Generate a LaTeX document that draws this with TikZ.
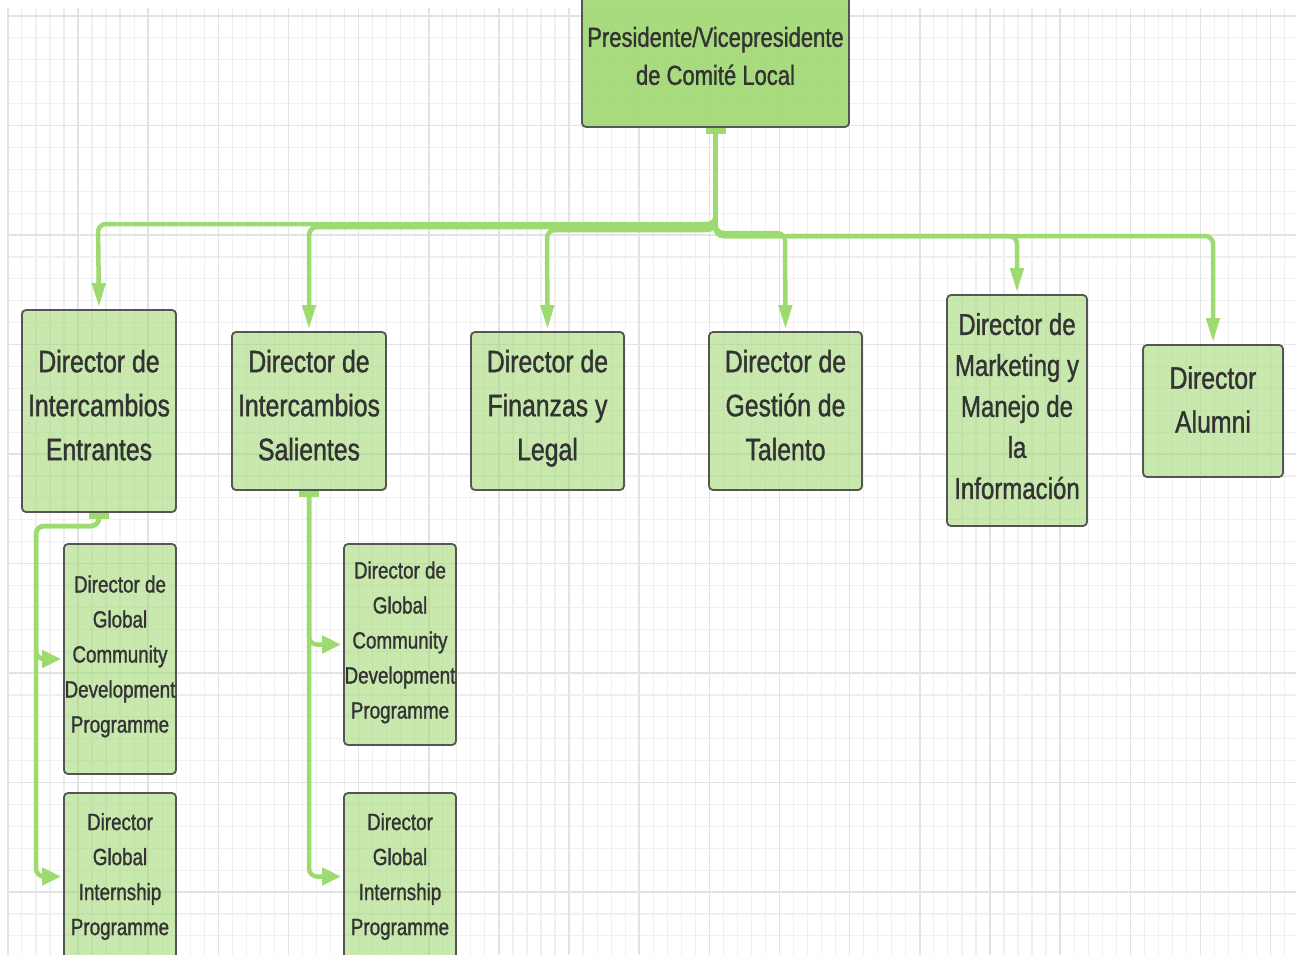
\documentclass[tikz,border=0pt]{standalone}
\usepackage{fontspec}
\newfontfamily\chartfont[FakeStretch=0.8,FakeBold=1.2]{Liberation Sans}
\usetikzlibrary{arrows.meta,positioning}
\definecolor{linkgreen}{RGB}{157,218,112}
\definecolor{boxgreen}{RGB}{163,217,119}
\definecolor{boxborder}{RGB}{85,85,85}
\definecolor{inkgray}{RGB}{51,51,51}
\newcommand{\lvltop}{\chartfont\fontsize{27.5}{38}\selectfont}
\newcommand{\lvltwo}{\chartfont\fontsize{31}{44}\selectfont}
\newcommand{\lvlmkt}{\chartfont\fontsize{30}{41}\selectfont}
\newcommand{\lvlthree}{\chartfont\fontsize{23.5}{35}\selectfont}
\tikzset{
  gridminor/.style={draw=black!6, line width=1.2pt},
  gridmajor/.style={draw=black!11, line width=1.5pt},
  orgbox/.style={draw=boxborder, line width=1.8pt, rounded corners=4pt,
    fill=boxgreen, fill opacity=0.6, text opacity=1, text=inkgray,
    align=center, inner sep=0pt},
  topbox/.style={orgbox, fill opacity=0.95, font=\lvltop},
  midbox/.style={orgbox, font=\lvltwo, text depth=12pt},
  subbox/.style={orgbox, font=\lvlthree, minimum width=112pt},
  conn/.style={draw=linkgreen, line width=4.5pt, rounded corners=8pt},
  tipdown/.style={{Rectangle[length=6pt,width=20pt]}-{Triangle[length=24pt,width=13pt]}, shorten >=2pt},
  tipright/.style={{Rectangle[length=6pt,width=20pt]}-{Triangle[length=19pt,width=17pt]}, shorten >=2pt}
}
\begin{document}
\begin{tikzpicture}[x=1pt,y=-1pt]
\useasboundingbox (0,0) rectangle (1296,955);
\clip (0,0) rectangle (1296,955);
% grid
\foreach \k in {0,...,92}
  \draw[gridminor] ({7.85+14.03*\k},8) -- ({7.85+14.03*\k},955);
\foreach \j in {0,...,43}
  \draw[gridminor] (8,{16+21.9*\j}) -- (1296,{16+21.9*\j});
\foreach \k in {0,5,...,90}
  \draw[gridmajor] ({7.85+14.03*\k},8) -- ({7.85+14.03*\k},955);
\foreach \j in {0,5,...,40}
  \draw[gridmajor] (8,{16+21.9*\j}) -- (1296,{16+21.9*\j});

% boxes
\node[topbox, minimum width=267pt, minimum height=142pt] (pres) at (715.5,56)
  {Presidente/Vicepresidente\\de Comité Local};
\node[midbox, minimum width=154pt, minimum height=202pt] (dinc) at (99,411)
  {Director de\\Intercambios\\Entrantes};
\node[midbox, minimum width=154pt, minimum height=158pt] (dout) at (309,411)
  {Director de\\Intercambios\\Salientes};
\node[midbox, minimum width=153pt, minimum height=158pt] (dfin) at (547.5,411)
  {Director de\\Finanzas y\\Legal};
\node[midbox, minimum width=153pt, minimum height=158pt] (dtal) at (785.5,411)
  {Director de\\Gestión de\\Talento};
\node[midbox, font=\lvlmkt, text depth=9pt, minimum width=140pt, minimum height=231pt] (dmkt) at (1017,410.5)
  {Director de\\Marketing y\\Manejo de\\la\\Información};
\node[midbox, minimum width=140pt, minimum height=132pt, text depth=23pt] (dalu) at (1213,411)
  {Director\\Alumni};

\node[subbox, text depth=10pt, minimum height=230pt] (gcdpin) at (120,659)
  {Director de\\Global\\Community\\Development\\Programme};
\node[subbox, minimum height=167pt] (gipin) at (120,876.5)
  {Director\\Global\\Internship\\Programme};
\node[subbox, text depth=9pt, minimum height=201pt] (gcdpout) at (400,644.5)
  {Director de\\Global\\Community\\Development\\Programme};
\node[subbox, minimum height=167pt] (gipout) at (400,876.5)
  {Director\\Global\\Internship\\Programme};

% connectors
\draw[conn, tipdown] (pres.south) |- (98,224) -- (dinc.north);
\draw[conn, tipdown] (pres.south) |- (309,227) -- (dout.north);
\draw[conn, tipdown] (pres.south) |- (547,230) -- (dfin.north);
\draw[conn, tipdown] (pres.south) |- (785,233) -- (dtal.north);
\draw[conn, tipdown] (pres.south) |- (1017,236) -- (dmkt.north);
\draw[conn, tipdown] (pres.south) |- (1213,236) -- (dalu.north);

\coordinate (bendin) at (36,526);
\draw[conn, tipright] (dinc.south) |- (bendin) |- (gcdpin.west);
\draw[conn, tipright] (dinc.south) |- (bendin) |- (gipin.west);
\draw[conn, tipright] (dout.south) |- (gcdpout.west);
\draw[conn, tipright] (dout.south) |- (gipout.west);
\end{tikzpicture}
\end{document}
